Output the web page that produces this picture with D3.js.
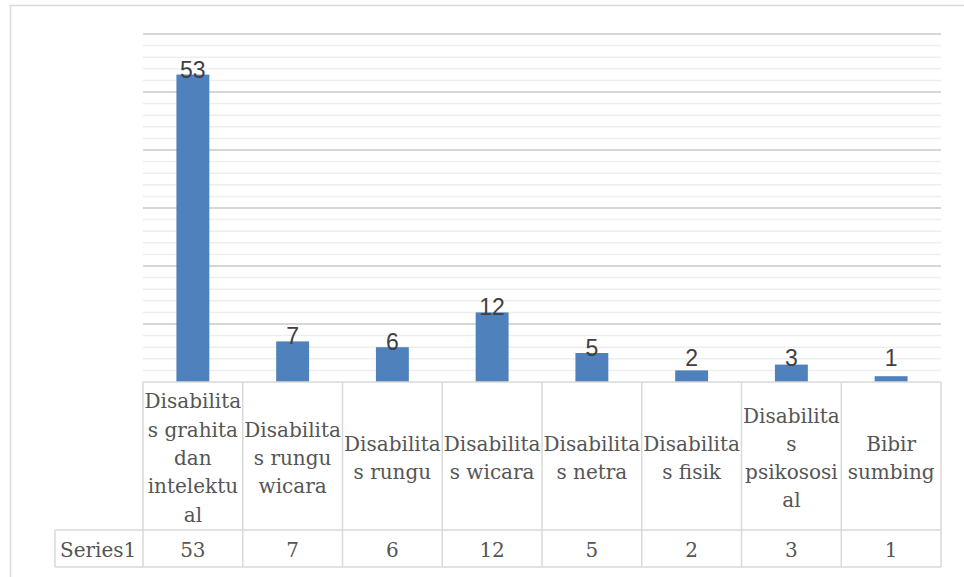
<!DOCTYPE html>
<html>
<head>
<meta charset="utf-8">
<script src="https://cdn.jsdelivr.net/npm/d3@7/dist/d3.min.js"></script>
<style>
  html, body { margin: 0; padding: 0; background: #fff; }
  svg { display: block; }
</style>
</head>
<body>
<svg id="chart" width="964" height="577"></svg>
<script>
// Kategori disabilitas dan jumlahnya
const categories = [
  "Disabilitas grahita dan intelektual",
  "Disabilitas rungu wicara",
  "Disabilitas rungu",
  "Disabilitas wicara",
  "Disabilitas netra",
  "Disabilitas fisik",
  "Disabilitas psikososial",
  "Bibir sumbing"
];
// Label kategori seperti terbungkus di sel tabel data
const categoryLines = [
  ["Disabilita", "s grahita", "dan", "intelektu", "al"],
  ["Disabilita", "s rungu", "wicara"],
  ["Disabilita", "s rungu"],
  ["Disabilita", "s wicara"],
  ["Disabilita", "s netra"],
  ["Disabilita", "s fisik"],
  ["Disabilita", "s", "psikososi", "al"],
  ["Bibir", "sumbing"]
];
const seriesName = "Series1";
const values = [53, 7, 6, 12, 5, 2, 3, 1];
const yMax = 60;
const majorStep = 10;
const minorStep = 2;

const svg = d3.select("#chart");
const W = 964, H = 577;

const plot = { left: 143, right: 941, top: 34, bottom: 382 };
const table = { headerBottom: 530, valueBottom: 567, labelLeft: 55 };

const gridMajor = "#d6d6d6";
const gridMinor = "#eeeeee";
const borderCol = "#d9d9d9";
const barCol = "#4f81bd";
const tableText = "#555555";
const labelText = "#404040";
const serif = "'DejaVu Serif', 'Liberation Serif', serif";
const sans = "'Liberation Sans', Arial, sans-serif";

// Chart area frame
svg.append("rect")
  .attr("x", 10.5).attr("y", 5.5)
  .attr("width", W + 20).attr("height", H + 20)
  .attr("fill", "#fff")
  .attr("stroke", borderCol).attr("stroke-width", 1.5);

const x = d3.scaleBand()
  .domain(d3.range(categories.length))
  .range([plot.left, plot.right])
  .paddingInner(0.67)
  .paddingOuter(0.335);

const y = d3.scaleLinear().domain([0, yMax]).range([plot.bottom, plot.top]);

// Gridlines: minor then major
const minorTicks = d3.range(minorStep, yMax + 0.001, minorStep).filter(v => v % majorStep !== 0);
const majorTicks = d3.range(majorStep, yMax + 0.001, majorStep);

svg.append("g").selectAll("line").data(minorTicks).join("line")
  .attr("x1", plot.left).attr("x2", plot.right)
  .attr("y1", d => y(d)).attr("y2", d => y(d))
  .attr("stroke", gridMinor).attr("stroke-width", 1.5);

svg.append("g").selectAll("line").data(majorTicks).join("line")
  .attr("x1", plot.left).attr("x2", plot.right)
  .attr("y1", d => y(d)).attr("y2", d => y(d))
  .attr("stroke", gridMajor).attr("stroke-width", 1.8);

// Bars
svg.append("g").selectAll("rect").data(values).join("rect")
  .attr("x", (d, i) => x(i))
  .attr("width", x.bandwidth())
  .attr("y", d => y(d))
  .attr("height", d => y(0) - y(d))
  .attr("fill", barCol);

// Data labels
const labelFloor = plot.bottom - 16;
svg.append("g").selectAll("text").data(values).join("text")
  .attr("x", (d, i) => x(i) + x.bandwidth() / 2)
  .attr("y", d => Math.min(y(d) + 3, labelFloor))
  .attr("text-anchor", "middle")
  .attr("font-family", sans)
  .attr("font-size", 23)
  .attr("fill", labelText)
  .text(d => d);

// Data table
const step = x.step();
const colEdges = d3.range(categories.length + 1).map(i => plot.left + i * step);
const tg = svg.append("g")
  .attr("stroke", borderCol).attr("stroke-width", 1.5).attr("fill", "none");

// horizontal rules
tg.append("line").attr("x1", plot.left).attr("x2", plot.right)
  .attr("y1", plot.bottom).attr("y2", plot.bottom);
tg.append("line").attr("x1", table.labelLeft).attr("x2", plot.right)
  .attr("y1", table.headerBottom).attr("y2", table.headerBottom);
tg.append("line").attr("x1", table.labelLeft).attr("x2", plot.right)
  .attr("y1", table.valueBottom).attr("y2", table.valueBottom);
// vertical rules
tg.selectAll("line.col").data(colEdges).join("line").attr("class", "col")
  .attr("x1", d => d).attr("x2", d => d)
  .attr("y1", plot.bottom).attr("y2", table.valueBottom);
tg.append("line").attr("x1", table.labelLeft).attr("x2", table.labelLeft)
  .attr("y1", table.headerBottom).attr("y2", table.valueBottom);

// Header row text
const headerMid = (plot.bottom + table.headerBottom) / 2;
const lineH = 28.3;
const headers = svg.append("g")
  .attr("font-family", serif).attr("font-size", 20)
  .attr("fill", tableText).attr("text-anchor", "middle");
categoryLines.forEach((lines, i) => {
  const cx = colEdges[i] + step / 2;
  lines.forEach((ln, j) => {
    headers.append("text")
      .attr("x", cx)
      .attr("y", headerMid + 9 + (j - (lines.length - 1) / 2) * lineH)
      .text(ln);
  });
});

// Value row text
const valueMid = (table.headerBottom + table.valueBottom) / 2;
const vals = svg.append("g")
  .attr("font-family", serif).attr("font-size", 20)
  .attr("fill", tableText);
vals.append("text")
  .attr("x", table.labelLeft + 5).attr("y", valueMid + 8)
  .text(seriesName);
vals.selectAll("text.v").data(values).join("text").attr("class", "v")
  .attr("x", (d, i) => colEdges[i] + step / 2)
  .attr("y", valueMid + 8)
  .attr("text-anchor", "middle")
  .text(d => d);
</script>
</body>
</html>
